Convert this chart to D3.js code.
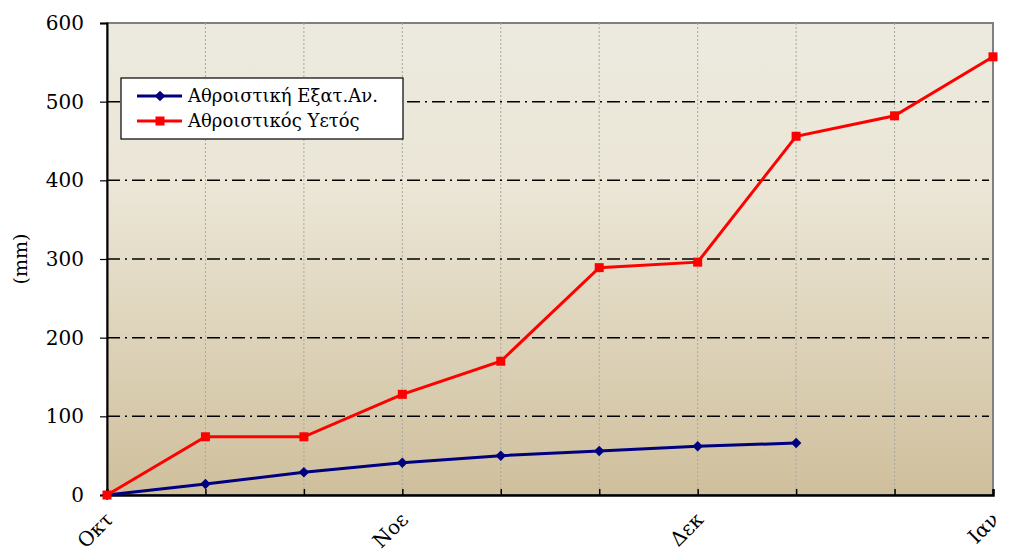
<!DOCTYPE html>
<html lang="el">
<head>
<meta charset="utf-8">
<script src="https://d3js.org/d3.v7.min.js"></script>
<style>
    body { margin: 0; background: #fff; }
    svg { display: block; }
    text { font-family: "DejaVu Serif", "Liberation Serif", serif; fill: #000; }
</style>
</head>
<body>
<svg width="1010" height="553"></svg>
<script>

    // months across the x axis (10 points, a label every third)
    var points = d3.range(10);
    var monthLabels = [
        {i: 0, label: "Οκτ"},
        {i: 3, label: "Νοε"},
        {i: 6, label: "Δεκ"},
        {i: 9, label: "Ιαν"}
    ];

    var evapValues = [0, 14, 29, 41, 50, 56, 62, 66];
    var rainValues = [0, 74, 74, 128, 170, 289, 296, 456, 482, 557];

    var yTicks = [0, 100, 200, 300, 400, 500, 600];

    var seriesNames = ["Αθροιστική Εξατ.Αν.", "Αθροιστικός Υετός"];
    var seriesColors = ["#00007f", "#ff0000"];

    var margin = {top: 23, right: 17, bottom: 58, left: 107},
        width = 1010 - margin.left - margin.right,
        height = 553 - margin.top - margin.bottom;

    var x = d3.scaleLinear().domain([0, 9]).range([0, width]);
    var y = d3.scaleLinear().domain([0, 600]).range([height, 0]);

    var svg = d3.select("svg");

    var defs = svg.append("defs");
    var grad = defs.append("linearGradient")
        .attr("id", "bg")
        .attr("x1", 0).attr("y1", 0).attr("x2", 0).attr("y2", 1);
    grad.append("stop").attr("offset", "0%").attr("stop-color", "#eceadf");
    grad.append("stop").attr("offset", "35%").attr("stop-color", "#ebe6d6");
    grad.append("stop").attr("offset", "100%").attr("stop-color", "#cfbf9c");

    var g = svg.append("g")
        .attr("transform", "translate(" + margin.left + "," + margin.top + ")");

    // plot background
    g.append("rect")
        .attr("width", width)
        .attr("height", height)
        .attr("fill", "url(#bg)")
        .attr("stroke", "#808080")
        .attr("stroke-width", 2);

    // vertical dotted grid
    g.selectAll(".vgrid")
        .data(points.slice(1, 9))
        .enter().append("line")
        .attr("x1", function (d) { return x(d); })
        .attr("x2", function (d) { return x(d); })
        .attr("y1", 0)
        .attr("y2", height)
        .attr("stroke", "#a8a8a0")
        .attr("stroke-width", 1)
        .attr("stroke-dasharray", "2,2");

    // horizontal dash-dot grid
    g.selectAll(".hgrid")
        .data(yTicks.slice(1, 6))
        .enter().append("line")
        .attr("x1", 0)
        .attr("x2", width - 4)
        .attr("y1", function (d) { return y(d); })
        .attr("y2", function (d) { return y(d); })
        .attr("stroke", "#000")
        .attr("stroke-width", 1.5)
        .attr("stroke-dasharray", "13,5,2,5");

    // y axis
    var yAxis = g.append("g")
        .call(d3.axisLeft(y).tickValues(yTicks).tickSize(7).tickPadding(16));
    yAxis.attr("font-family", null).attr("font-size", null);
    yAxis.select(".domain").attr("stroke", "#000").attr("stroke-width", 2);
    yAxis.selectAll(".tick line").attr("stroke", "#000").attr("stroke-width", 1.2);
    yAxis.selectAll(".tick text")
        .style("font-size", "20px");

    // x axis, ticks pointing inward
    var xAxis = g.append("g")
        .attr("transform", "translate(0," + height + ")")
        .call(d3.axisBottom(x).tickValues(points).tickSize(-6).tickFormat(""));
    xAxis.select(".domain").attr("stroke", "#000").attr("stroke-width", 2.5);
    xAxis.selectAll(".tick line").attr("stroke", "#000").attr("stroke-width", 1.5);

    // month labels, rotated
    g.selectAll(".month")
        .data(monthLabels)
        .enter().append("text")
        .attr("transform", function (d) {
            return "translate(" + (x(d.i) + 7) + "," + (height + 26) + ") rotate(-45)";
        })
        .attr("text-anchor", "end")
        .style("font-size", "20px")
        .text(function (d) { return d.label; });

    // y title
    svg.append("text")
        .attr("transform", "translate(27," + (margin.top + y(300)) + ") rotate(-90)")
        .attr("text-anchor", "middle")
        .style("font-size", "19px")
        .text("(mm)");

    var line = d3.line()
        .x(function (d, i) { return x(i); })
        .y(function (d) { return y(d); });

    // blue series
    g.append("path")
        .datum(evapValues)
        .attr("d", line)
        .attr("fill", "none")
        .attr("stroke", seriesColors[0])
        .attr("stroke-width", 3);
    g.selectAll(".diamond")
        .data(evapValues)
        .enter().append("path")
        .attr("transform", function (d, i) { return "translate(" + x(i) + "," + y(d) + ")"; })
        .attr("d", d3.symbol().type(d3.symbolDiamond2).size(70))
        .attr("fill", seriesColors[0]);

    // red series
    g.append("path")
        .datum(rainValues)
        .attr("d", line)
        .attr("fill", "none")
        .attr("stroke", seriesColors[1])
        .attr("stroke-width", 3);
    g.selectAll(".square")
        .data(rainValues)
        .enter().append("rect")
        .attr("x", function (d, i) { return x(i) - 4.5; })
        .attr("y", function (d) { return y(d) - 4.5; })
        .attr("width", 9)
        .attr("height", 9)
        .attr("fill", seriesColors[1]);

    // legend
    var legend = svg.append("g").attr("transform", "translate(121,78)");
    legend.append("rect")
        .attr("width", 282)
        .attr("height", 61)
        .attr("fill", "#fff")
        .attr("stroke", "#000")
        .attr("stroke-width", 1.2);

    var item = legend.selectAll(".item")
        .data(seriesNames)
        .enter().append("g")
        .attr("transform", function (d, i) { return "translate(0," + (18 + i * 25) + ")"; });

    item.append("line")
        .attr("x1", 16).attr("x2", 61)
        .attr("stroke", function (d, i) { return seriesColors[i]; })
        .attr("stroke-width", 3);

    item.each(function (d, i) {
        var s = d3.select(this);
        if (i === 0) {
            s.append("path")
                .attr("transform", "translate(39,0)")
                .attr("d", d3.symbol().type(d3.symbolDiamond2).size(70))
                .attr("fill", seriesColors[0]);
        } else {
            s.append("rect")
                .attr("x", 34.5).attr("y", -4.5)
                .attr("width", 9).attr("height", 9)
                .attr("fill", seriesColors[1]);
        }
    });

    item.append("text")
        .attr("x", 67)
        .attr("dy", "0.35em")
        .style("font-size", "18px")
        .text(function (d) { return d; });

</script>
</body>
</html>
